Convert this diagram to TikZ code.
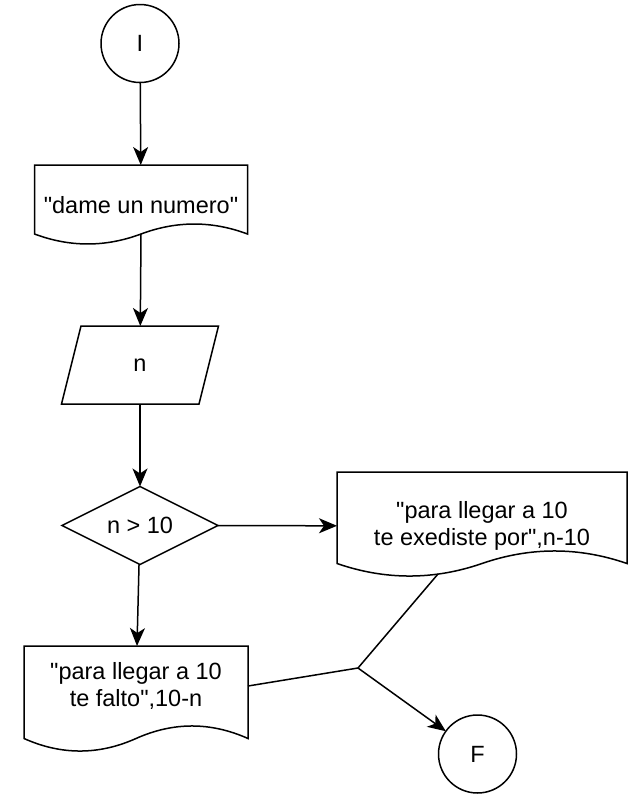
\documentclass[tikz,border=0pt]{standalone}
\usepackage{fontspec}
\setmainfont{Liberation Sans}[Ligatures=TeXOff]
\usetikzlibrary{arrows.meta}
\usetikzlibrary{shapes.geometric}

\begin{document}
\begin{tikzpicture}[y=1pt, x=1pt, yscale=-1, inner sep=0pt, outer sep=0pt, line width=1.5pt,
  lbl/.style={font=\fontsize{23.5}{27}\selectfont, align=center},
  terminal/.style={lbl, circle, draw, minimum size=78pt},
  boxarea/.style={lbl, rectangle, draw=none},
  decision/.style={lbl, diamond, aspect=2, draw, minimum width=156pt, minimum height=78pt},
  flow/.style={-{Stealth[length=18pt, width=15pt, inset=5pt]}}]

\useasboundingbox (0,0) rectangle (636,806);

% document dame un numero
\draw (34.5,165) -- (247.5,165) -- (247.5,234) .. controls (212,220.7) and
  (176.5,220.7) .. (141,234) .. controls (105.5,247.3) and (70,247.3) ..
  (34.5,234) -- cycle;

% input n
\draw (81,326) -- (218.5,326) -- (199,404) -- (61.5,404) -- cycle;

% document exediste
\draw (337,472) -- (627,472) -- (627,563.5) .. controls (578.7,546.8) and
  (530.3,546.8) .. (482,563.5) .. controls (433.7,580.2) and (385.3,580.2) ..
  (337,563.5) -- cycle;

% document falto
\draw (24,646) -- (248,646) -- (248,738.5) .. controls (210.7,721.8) and
  (173.3,721.8) .. (136,738.5) .. controls (98.7,755.2) and (61.3,755.2) ..
  (24,738.5) -- cycle;

% nodes
\node[terminal] (start) at (140,43.5) {I};
\node[boxarea, minimum width=213pt, minimum height=80pt] (ask) at (141,205) {"dame un numero"};
\node[boxarea, minimum width=138pt, minimum height=78pt] (read) at (140,365) {n};
\node[decision] (test) at (140,525.5) {n > 10};
\node[boxarea, minimum width=290pt, minimum height=108pt] (over) at (482,526) {"para llegar a 10\\te exediste por",n-10};
\node[boxarea, minimum width=224pt, minimum height=80pt] (under) at (136,686) {"para llegar a 10\\te falto",10-n};
\node[terminal] (stop) at (477.5,754) {F};

\coordinate (ask out) at (141,234);
\coordinate (over out) at (438,574);
\coordinate (join) at (358,668);

% connectors
\draw[flow] (start) -- (ask);
\draw[flow] (ask out) -- (read);
\draw[flow] (read) -- (test);
\draw[flow] (test) -- (over);
\draw[flow] (test) -- (under);
\draw (under.east) -- (join);
\draw (over out) -- (join);
\draw[flow] (join) -- (stop);

\end{tikzpicture}
\end{document}
